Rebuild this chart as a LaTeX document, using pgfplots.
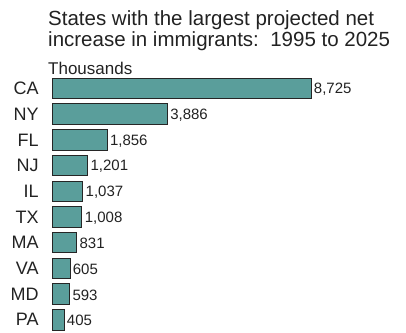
\documentclass[border=0pt]{standalone}
\usepackage{pgfplots}
\pgfplotsset{compat=1.18}
\usepackage{pgfplotstable}
\usepackage{fontspec}
\setmainfont{Liberation Sans}
\definecolor{barfill}{HTML}{5A9E9B}
\definecolor{txt}{HTML}{222222}
\pgfplotstableread{
idx value label
0 8725 8,725
1 3886 3,886
2 1856 1,856
3 1201 1,201
4 1037 1,037
5 1008 1,008
6 831 831
7 605 605
8 593 593
9 405 405
}\datatable
\begin{document}
\begin{tikzpicture}
\path (0,0) rectangle (406bp,-332bp);
\node[anchor=base west, inner sep=0pt, text=txt, font=\fontsize{20.5bp}{22bp}\selectfont] at (48bp,-26bp) {States with the largest projected net};
\node[anchor=base west, inner sep=0pt, text=txt, font=\fontsize{20.5bp}{22bp}\selectfont] at (48bp,-46.7bp) {increase in immigrants:\ \ 1995 to 2025};
\node[anchor=base west, inner sep=0pt, text=txt, font=\fontsize{17bp}{19bp}\selectfont] at (48bp,-74bp) {Thousands};
\begin{axis}[
  at={(52bp,-75.6bp)}, anchor=north west,
  scale only axis, width=259bp, height=257bp,
  xmin=0, xmax=8725, ymin=-0.5, ymax=9.5,
  y dir=reverse,
  xbar, bar width=20.5bp, bar shift=0pt,
  axis lines*=left, axis line style={draw=none},
  xtick=\empty,
  ytick={0,...,9},
  yticklabels={CA,NY,FL,NJ,IL,TX,MA,VA,MD,PA},
  ytick style={draw=none},
  yticklabel style={font=\fontsize{18bp}{20bp}\selectfont, text=txt, inner sep=0pt, xshift=-9bp},
  point meta=explicit symbolic,
  nodes near coords={\pgfplotspointmeta},
  nodes near coords style={font=\fontsize{15bp}{17bp}\selectfont, text=txt, anchor=west, inner sep=0pt, xshift=2.5bp, yshift=-1bp},
  clip=false,
]
\addplot[fill=barfill, draw=black!85, line width=0.9bp] table[x=value, y=idx, meta=label] {\datatable};
\end{axis}
\end{tikzpicture}
\end{document}
